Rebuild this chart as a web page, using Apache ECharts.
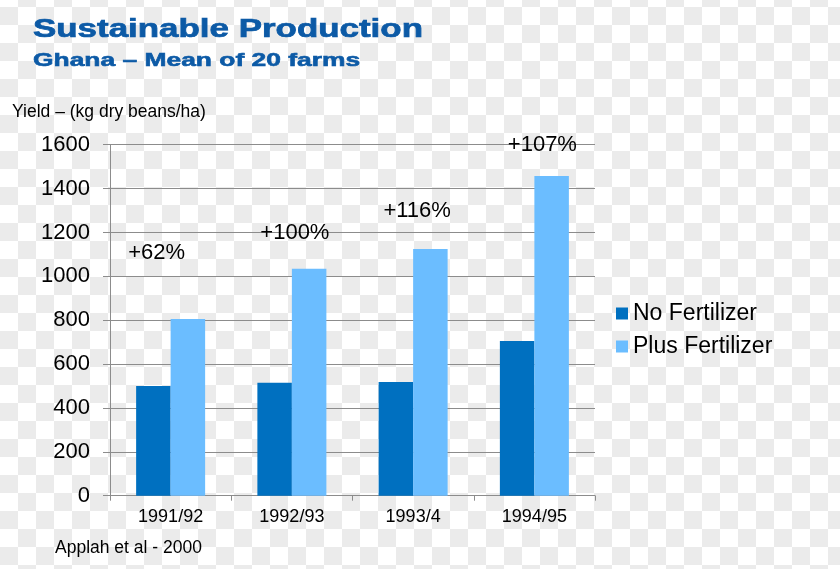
<!DOCTYPE html>
<html>
<head>
<meta charset="utf-8">
<script src="https://cdn.jsdelivr.net/npm/echarts@6/dist/echarts.min.js"></script>
<style>
  html, body { margin: 0; padding: 0; }
  body {
    width: 840px; height: 569px; overflow: hidden;
    background-color: #ffffff;
    background-image: conic-gradient(#ffffff 25%, #ebebeb 0 50%, #ffffff 0 75%, #ebebeb 0);
    background-size: 36px 36px;
    background-position: 0 7px;
  }
  #chart { width: 840px; height: 569px; }
</style>
</head>
<body>
<div id="chart"></div>
<script>
// ---- data ----
const categories = ['1991/92', '1992/93', '1993/4', '1994/95'];
const noFertilizer = [500, 515, 518, 705];
const plusFertilizer = [805, 1035, 1125, 1457];
const increaseLabels = ['+62%', '+100%', '+116%', '+107%'];
const increaseLabelY = [1105, 1200, 1300, 1600];
const seriesNames = ['No Fertilizer', 'Plus Fertilizer'];
const titleText = 'Sustainable Production';
const subtitleText = 'Ghana \u2013 Mean of 20 farms';
const yAxisTitle = 'Yield \u2013 (kg dry beans/ha)';
const sourceText = 'Applah et al - 2000';

// ---- styling ----
const FONT = '"Liberation Sans", Arial, sans-serif';
const labelNudge = [-14, 3, 4, 8];
const gridColor = '#8c8c8c';
const titleColor = '#0c5aa6';

const chart = echarts.init(document.getElementById('chart'), null, { renderer: 'canvas' });

chart.setOption({
  backgroundColor: 'transparent',
  animation: false,
  textStyle: { fontFamily: FONT, color: '#000' },
  grid: { left: 110, right: 245, top: 144.7, bottom: 73.3, containLabel: false },
  legend: {
    data: seriesNames,
    orient: 'vertical',
    left: 616, top: 302,
    padding: 0,
    icon: 'rect',
    itemWidth: 12, itemHeight: 12,
    itemGap: 10,
    itemTextGap: 7,
    textStyle: { fontSize: 23, lineHeight: 23, color: '#000', fontFamily: FONT }
  },
  xAxis: {
    type: 'category',
    data: categories,
    axisLine: { lineStyle: { color: gridColor, width: 1 } },
    axisTick: { show: true, length: 5, alignWithLabel: false, lineStyle: { color: gridColor } },
    axisLabel: { fontSize: 18, color: '#000', margin: 12, fontFamily: FONT }
  },
  yAxis: {
    type: 'value',
    min: 0, max: 1600, interval: 200,
    axisLine: { show: true, lineStyle: { color: gridColor, width: 1 } },
    axisTick: { show: true, length: 7, lineStyle: { color: gridColor } },
    splitLine: { show: true, lineStyle: { color: gridColor, width: 1 } },
    axisLabel: { fontSize: 22, color: '#000', margin: 20, fontFamily: FONT,
                 formatter: v => String(v) }
  },
  graphic: [
    { type: 'text', x: 33, y: 29.8, scaleX: 1.343, originX: 0,
      style: { text: titleText, font: 'bold 26px ' + FONT, fill: titleColor,
               stroke: titleColor, lineWidth: 0.7, verticalAlign: 'middle' } },
    { type: 'text', x: 33, y: 61, scaleX: 1.389, originX: 0,
      style: { text: subtitleText, font: 'bold 19px ' + FONT, fill: titleColor,
               stroke: titleColor, lineWidth: 0.6, verticalAlign: 'middle' } },
    { type: 'text', x: 12, y: 112,
      style: { text: yAxisTitle, font: '17.5px ' + FONT, fill: '#000', verticalAlign: 'middle' } },
    { type: 'text', x: 55, y: 548,
      style: { text: sourceText, font: '17.5px ' + FONT, fill: '#000', verticalAlign: 'middle' } }
  ],
  series: [
    {
      name: seriesNames[0], type: 'bar', data: noFertilizer,
      barWidth: 34.5, barGap: '0%',
      itemStyle: { color: '#0070c0' }
    },
    {
      name: seriesNames[1], type: 'bar', data: plusFertilizer,
      barWidth: 34.5, barGap: '0%',
      itemStyle: { color: '#6bbdff' }
    },
    {
      name: 'increase', type: 'scatter',
      data: increaseLabelY.map((v, i) => ({
        value: [categories[i], v],
        label: { offset: [labelNudge[i], 0] }
      })),
      symbolSize: 0,
      itemStyle: { color: '#000', opacity: 1 },
      silent: true,
      label: {
        show: true, position: 'inside', opacity: 1,
        formatter: p => increaseLabels[p.dataIndex],
        fontSize: 22, color: '#000', fontFamily: FONT
      },
      z: 10
    }
  ]
});
</script>
</body>
</html>
